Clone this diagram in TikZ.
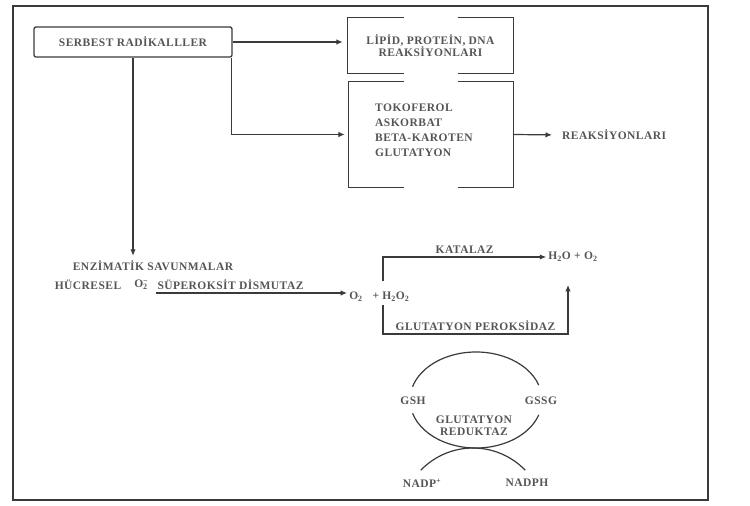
\documentclass[tikz,border=0pt]{standalone}
\usepackage{fontspec}
\setmainfont[LetterSpace=4]{Liberation Serif}
\usepackage{tikz}
\usetikzlibrary{arrows.meta,calc,positioning}
\definecolor{ScanInk}{HTML}{3A3A3A}
\definecolor{ScanText}{HTML}{555555}
\tikzset{
  >=Latex,
  framebox/.style={draw=ScanInk,line width=1.6pt},
  sourcebox/.style={draw=ScanInk,line width=1.3pt,rounded corners=2pt,minimum width=198pt,
    minimum height=30pt,inner sep=0pt,text=ScanText,font=\fontsize{11.5}{13}\selectfont\bfseries},
  bracketbox/.style={inner sep=0pt,align=center,text=ScanText,font=\fontsize{11.5}{12.5}\selectfont\bfseries},
  bracketline/.style={draw=ScanInk,line width=1.3pt},
  tag/.style={text=ScanText,font=\fontsize{11.5}{12.5}\selectfont\bfseries,inner sep=2pt},
  flow/.style={-{Latex[length=6.5pt,width=5.5pt]},draw=ScanInk,line width=1.2pt},
  ringline/.style={draw=ScanInk,line width=1.2pt}
}

\begin{document}
\begin{tikzpicture}[x=1pt,y=1pt]
  \useasboundingbox (0,0) rectangle (750,506);
  \draw[framebox] (13,6) rectangle (708,500);

  % upper part
  \node[sourcebox] (serbest) at (133,464) {SERBEST RADİKALLLER};
  \node[bracketbox,minimum width=165pt,minimum height=55pt] (lipid) at (430.5,460.5) {LİPİD, PROTEİN, DNA\\REAKSİYONLARI};
  \node[bracketbox,minimum width=164pt,minimum height=105pt] (tok) at (431,371.5) {};
  \node[tag,align=left,anchor=west,font=\fontsize{11.5}{15}\selectfont\bfseries] (toklist) at (373,375.5) {TOKOFEROL\\ASKORBAT\\BETA-KAROTEN\\GLUTATYON};
  \node[tag,anchor=west] (reak) at (560,371) {REAKSİYONLARI};

  \draw[bracketline] ([xshift=-27pt]lipid.north) -- (lipid.north west) -- (lipid.south west) -- ([xshift=-27pt]lipid.south);
  \draw[bracketline] ([xshift=27pt]lipid.north) -- (lipid.north east) -- (lipid.south east) -- ([xshift=27pt]lipid.south);
  \draw[bracketline] ([xshift=-27pt]tok.north) -- (tok.north west) -- (tok.south west) -- ([xshift=-27pt]tok.south);
  \draw[bracketline] ([xshift=27pt]tok.north) -- (tok.north east) -- (tok.south east) -- ([xshift=27pt]tok.south);

  \draw[flow,shorten >=5pt] (serbest.east) -- (serbest.east -| lipid.west);
  \draw[flow,shorten >=4pt] ([xshift=-1pt]serbest.south east) |- (tok.west);
  \draw[flow,shorten >=8pt] (tok.east) -- (reak.west);

  % enzymatic defence
  \node[tag] (enzim) at (153,240) {ENZİMATİK SAVUNMALAR};
  \node[tag] (hucre) at (88,221) {HÜCRESEL};
  \node[tag] (o2m) at (141,221) {O\rlap{\textsuperscript{−}}\textsubscript{2}};
  \node[tag] (o2) at (356,209) {O\textsubscript{2}};
  \node[tag] (h2o2) at (391,209) {+ H\textsubscript{2}O\textsubscript{2}};
  \node[tag] (prod) at (573,249) {H\textsubscript{2}O + O\textsubscript{2}};

  \draw[flow] (serbest.south) -- ([yshift=3pt]serbest.south |- enzim.north);
  \draw[flow] ([xshift=6pt,yshift=-8pt]o2m.east) coordinate (sod) -- (sod -| o2.west)
    node[tag,pos=0.39,above=1pt] {SÜPEROKSİT DİSMUTAZ};
  \draw[flow] ([xshift=-8pt,yshift=9pt]h2o2.north) |- (prod.west)
    node[tag,pos=0.75,above=1pt] {KATALAZ};
  \draw[flow] ([xshift=-8pt,yshift=-1pt]h2o2.south) -- ++(0,-29) -| ([xshift=-5pt,yshift=-21pt]prod.south)
    node[tag,pos=0.25,above=1pt] {GLUTATYON PEROKSİDAZ};

  % glutathione cycle
  \coordinate (ring) at (476,106);
  \coordinate (nadring) at (473,-14.5);
  \node[tag] (gsh) at (413,105) {GSH};
  \node[tag] (gssg) at (541,105) {GSSG};
  \node[tag,align=center] (gr) at (474,80.5) {GLUTATYON\\REDUKTAZ};
  \node[tag] (nadp) at (422,23) {NADP\textsuperscript{+}};
  \node[tag] (nadph) at (527,23) {NADPH};

  \draw[ringline] ($(ring)+(18:66 and 48)$) arc[start angle=18,end angle=164,x radius=66,y radius=48];
  \draw[ringline] ($(ring)+(196:66 and 48)$) arc[start angle=196,end angle=342,x radius=66,y radius=48];
  \draw[ringline] ($(nadring)+(44:72.5)$) arc[start angle=44,end angle=136,radius=72.5];
\end{tikzpicture}
\end{document}
